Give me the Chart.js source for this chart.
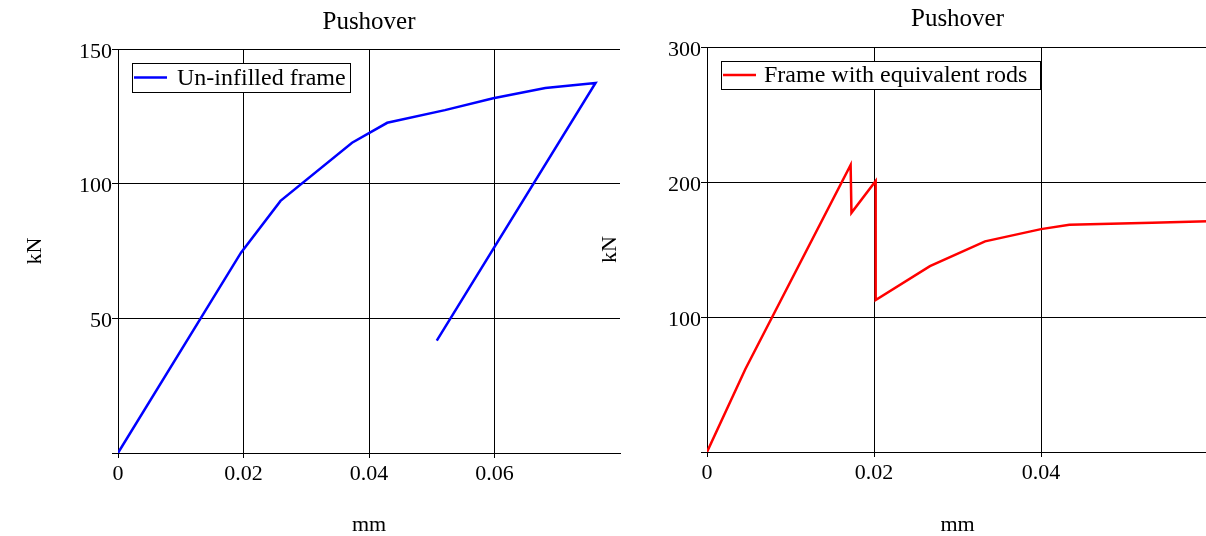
<!DOCTYPE html>
<html><head><meta charset="utf-8">
<script src="https://cdn.jsdelivr.net/npm/chart.js@4"></script>
<style>
html,body{margin:0;padding:0;background:#fff;overflow:hidden;width:1206px;height:536px}
#wrap{position:relative;width:1206px;height:536px;overflow:hidden;background:#fff}
canvas{position:absolute;top:0}
#c1{left:0}
#c2{left:580px}
</style></head><body>
<div id="wrap"><canvas id="c1" width="640" height="536"></canvas><canvas id="c2" width="630" height="536"></canvas></div>
<script>
// ---- data ----
const chartTitle = 'Pushover';
const xAxisTitle = 'mm';
const yAxisTitle = 'kN';

const leftLabel = 'Un-infilled frame';
const leftX = [0, 0.0196, 0.0259, 0.0373, 0.0429, 0.0521, 0.0598, 0.0681, 0.0761, 0.0508];
const leftY = [0, 74.4, 93.6, 115.2, 122.6, 127.3, 131.7, 135.5, 137.4, 41.7];
const leftXTicks = [0, 0.02, 0.04, 0.06];
const leftXTickLabels = ['0', '0.02', '0.04', '0.06'];
const leftYTicks = [0, 50, 100, 150];
const leftYTickLabels = ['', '50', '100', '150'];

const rightLabel = 'Frame with equivalent rods';
const rightX = [0, 0.0046, 0.0172, 0.0173, 0.0202, 0.0202, 0.0267, 0.0333, 0.0400, 0.0434, 0.0533, 0.0600];
const rightY = [0, 61.5, 212.6, 177.2, 200.7, 112.6, 137.7, 156.0, 165.1, 168.4, 169.9, 171.0];
const rightXTicks = [0, 0.02, 0.04];
const rightXTickLabels = ['0', '0.02', '0.04'];
const rightYTicks = [0, 100, 200, 300];
const rightYTickLabels = ['', '100', '200', '300'];

// ---- drawing ----
const FONT = '"Liberation Serif", "Times New Roman", serif';
Chart.defaults.font.family = FONT;
Chart.defaults.color = '#000';

const boxLegend = {
  id: 'boxLegend',
  afterDatasetsDraw(chart, args, opts) {
    const {ctx, chartArea} = chart;
    const ds = chart.data.datasets[0];
    const x = Math.round(chartArea.left + opts.dx), y = Math.round(chartArea.top + opts.dy);
    ctx.save();
    ctx.fillStyle = '#fff';
    ctx.fillRect(x, y, opts.w, opts.h);
    ctx.strokeStyle = '#000';
    ctx.lineWidth = 1;
    ctx.strokeRect(x + 0.5, y + 0.5, opts.w, opts.h);
    ctx.strokeStyle = ds.borderColor;
    ctx.lineWidth = 2.5;
    ctx.beginPath();
    ctx.moveTo(x + 2, y + opts.h / 2);
    ctx.lineTo(x + 35, y + opts.h / 2);
    ctx.stroke();
    ctx.fillStyle = '#000';
    ctx.font = '24px ' + FONT;
    ctx.textBaseline = 'middle';
    ctx.fillText(ds.label, x + opts.textDx, y + opts.h / 2 + 1);
    ctx.restore();
  }
};

function makeChart(id, c) {
  return new Chart(document.getElementById(id), {
    type: 'scatter',
    data: {datasets: [{
      label: c.label,
      data: c.xs.map((x, i) => ({x: x, y: c.ys[i]})),
      borderColor: c.color, backgroundColor: c.color,
      showLine: true, pointRadius: 0, borderWidth: 2.5, tension: 0
    }]},
    plugins: [boxLegend],
    options: {
      responsive: false, animation: false, devicePixelRatio: 1,
      layout: {padding: {left: 0, right: c.padRight, top: 0, bottom: 0}},
      plugins: {
        legend: {display: false}, tooltip: {enabled: false},
        title: {display: true, text: chartTitle, fullSize: false, color: '#000',
          font: {size: 25, weight: 'normal', lineHeight: 1.2},
          padding: {top: c.tTop, bottom: c.tBottom}},
        boxLegend: c.legend
      },
      scales: {
        x: {
          type: 'linear', min: c.xMin, max: c.xMax,
          afterFit(s) { s.height = c.xH; },
          afterBuildTicks(s) { s.ticks = c.xTicks.map(v => ({value: v})); },
          ticks: {callback: (v, i) => c.xTickLabels[i], color: '#000', font: {size: 22}, padding: 3, maxRotation: 0, autoSkip: false},
          grid: {color: '#000', tickLength: 5, lineWidth: 1},
          border: {color: '#000', width: 1},
          title: {display: true, text: xAxisTitle, color: '#000', font: {size: 22, lineHeight: 1}, padding: {top: 0, bottom: 0}}
        },
        y: {
          type: 'linear', min: c.yMin, max: c.yMax,
          afterFit(s) { s.width = c.yW; },
          afterBuildTicks(s) { s.ticks = c.yTicks.map(v => ({value: v})); },
          ticks: {callback: (v, i) => c.yTickLabels[i], color: '#000', font: {size: 22}, padding: 0, labelOffset: 3, autoSkip: false},
          grid: {color: '#000', tickLength: 6, lineWidth: 1},
          border: {color: '#000', width: 1},
          title: {display: true, text: yAxisTitle, color: '#000', font: {size: 22, lineHeight: 1}, padding: {top: c.yTitlePad, bottom: 0}}
        }
      }
    }
  });
}

makeChart('c1', {
  label: leftLabel, xs: leftX, ys: leftY, color: '#0000ff',
  xMin: 0, xMax: 0.08, yMin: 0, yMax: 150,
  xTicks: leftXTicks, xTickLabels: leftXTickLabels, yTicks: leftYTicks, yTickLabels: leftYTickLabels,
  padRight: 20, tTop: 7, tBottom: 12, xH: 83, yW: 118, yTitlePad: 24,
  legend: {dx: 14, dy: 14, w: 218, h: 29, textDx: 45}
});
makeChart('c2', {
  label: rightLabel, xs: rightX, ys: rightY, color: '#ff0000',
  xMin: 0, xMax: 0.06, yMin: 0, yMax: 300,
  xTicks: rightXTicks, xTickLabels: rightXTickLabels, yTicks: rightYTicks, yTickLabels: rightYTickLabels,
  padRight: 2, tTop: 4, tBottom: 13, xH: 84, yW: 127, yTitlePad: 19,
  legend: {dx: 14, dy: 14, w: 319, h: 28, textDx: 43}
});
</script>
</body></html>
